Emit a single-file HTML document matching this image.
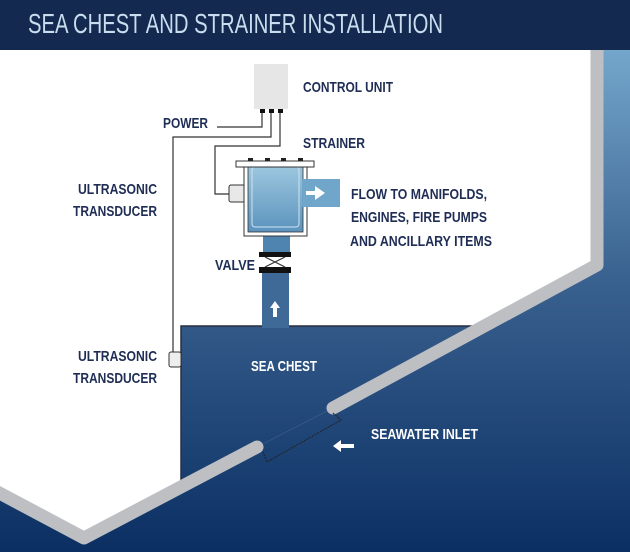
<!DOCTYPE html>
<html><head><meta charset="utf-8"><style>
html,body{margin:0;padding:0;background:#fff;}
svg{display:block;}
.l{font-family:"Liberation Sans",sans-serif;font-weight:bold;fill:#1f2d55;font-size:15px;}
.w{fill:#fff;}
</style></head><body>
<svg width="630" height="552" viewBox="0 0 630 552" xmlns="http://www.w3.org/2000/svg">
<defs>
<linearGradient id="sea" x1="0" y1="50" x2="0" y2="552" gradientUnits="userSpaceOnUse">
<stop offset="0" stop-color="#74a6cb"/><stop offset="0.45" stop-color="#3a6290"/><stop offset="1" stop-color="#0b2f63"/>
</linearGradient>
<linearGradient id="str" x1="0" y1="0" x2="0" y2="1">
<stop offset="0" stop-color="#9cc6de"/><stop offset="1" stop-color="#5b93bd"/>
</linearGradient>
</defs>
<rect x="0" y="0" width="630" height="552" fill="url(#sea)"/>
<polygon points="0,50 597,50 597,265 333,408 257,447 84,538 0,493" fill="#fff"/>
<polygon points="181,326 485,326 333,408 257,447 181,487" fill="url(#sea)"/>
<rect x="262" y="272" width="27" height="56" fill="#3f6a98"/>
<polyline points="181,487 181,326 262,326" fill="none" stroke="#2a2f3a" stroke-width="1.5"/>
<line x1="289" y1="326" x2="485" y2="326" stroke="#2a2f3a" stroke-width="1.5"/>
<polyline points="597,50 597,265 333,408" fill="none" stroke="#bdbfc3" stroke-width="13" stroke-linecap="round" stroke-linejoin="round"/>
<polyline points="257,447 84,538 -10,488" fill="none" stroke="#bdbfc3" stroke-width="13" stroke-linecap="round" stroke-linejoin="round"/>
<polyline points="333,413 341,420 267,462 263,452" fill="none" stroke="#222" stroke-width="1" stroke-dasharray="2,1"/>
<rect x="0" y="0" width="630" height="50" fill="#13294f"/>
<text x="28" y="33" font-family="Liberation Sans Narrow,Liberation Sans,sans-serif" font-size="28" fill="#c9ddef" textLength="415" lengthAdjust="spacingAndGlyphs">SEA CHEST AND STRAINER INSTALLATION</text>
<rect x="254" y="64" width="34" height="45" fill="#e6e6e6"/>
<rect x="260" y="109" width="5" height="4" fill="#111"/><rect x="269" y="109" width="5" height="4" fill="#111"/><rect x="278" y="109" width="5" height="4" fill="#111"/>
<g fill="none" stroke="#333" stroke-width="1.2">
<polyline points="262,113 262,127 217,127"/>
<polyline points="271,113 271,137 173,137 173,352"/>
<polyline points="280,113 280,146 215,146 215,194 230,194"/>
</g>
<rect x="169" y="352" width="12" height="15" rx="2" fill="#eee" stroke="#333" stroke-width="1"/>
<rect x="229" y="185" width="16" height="17" rx="2" fill="#e8e8e8" stroke="#333" stroke-width="1"/>
<rect x="263" y="234" width="27" height="19" fill="#4f84b0"/>
<rect x="244" y="167" width="63" height="69" fill="#fff" stroke="#333" stroke-width="1"/>
<rect x="248" y="167" width="55" height="65" fill="url(#str)" stroke="#333" stroke-width="0.8"/>
<rect x="252" y="167" width="47" height="60" rx="3" fill="none" stroke="#cfe3ef" stroke-width="1"/>
<rect x="302" y="179" width="38" height="28" fill="#6fa6ca"/>
<polygon points="306,191 315,191 315,186 325,193 315,200 315,195 306,195" fill="#fff"/>
<rect x="236" y="161" width="78" height="6" fill="#fff" stroke="#333" stroke-width="1"/>
<rect x="248" y="158" width="5" height="3" fill="#222"/><rect x="265" y="158" width="5" height="3" fill="#222"/><rect x="281" y="158" width="5" height="3" fill="#222"/><rect x="298" y="158" width="5" height="3" fill="#222"/>
<rect x="259" y="252" width="32" height="5" fill="#111"/>
<rect x="259" y="267" width="32" height="6" fill="#111"/>
<path d="M265,257 L285,267 M285,257 L265,267" stroke="#333" stroke-width="1.2"/>
<polygon points="275,301 270,308 273,308 273,317 277,317 277,308 280,308" fill="#fff"/>
<polygon points="333,446 341,440 341,444 354,444 354,448 341,448 341,452" fill="#fff"/>
<g lengthAdjust="spacingAndGlyphs">
<text class="l" x="303" y="92" textLength="90" lengthAdjust="spacingAndGlyphs">CONTROL UNIT</text>
<text class="l" x="163" y="128" textLength="45" lengthAdjust="spacingAndGlyphs">POWER</text>
<text class="l" x="303" y="148" textLength="62" lengthAdjust="spacingAndGlyphs">STRAINER</text>
<text class="l" x="351" y="199" textLength="136" lengthAdjust="spacingAndGlyphs">FLOW TO MANIFOLDS,</text>
<text class="l" x="351" y="222" textLength="136" lengthAdjust="spacingAndGlyphs">ENGINES, FIRE PUMPS</text>
<text class="l" x="350" y="246" textLength="142" lengthAdjust="spacingAndGlyphs">AND ANCILLARY ITEMS</text>
<text class="l" x="215" y="270" textLength="40" lengthAdjust="spacingAndGlyphs">VALVE</text>
<text class="l" x="78" y="194" textLength="79" lengthAdjust="spacingAndGlyphs">ULTRASONIC</text>
<text class="l" x="73" y="216" textLength="84" lengthAdjust="spacingAndGlyphs">TRANSDUCER</text>
<text class="l" x="78" y="361" textLength="79" lengthAdjust="spacingAndGlyphs">ULTRASONIC</text>
<text class="l" x="73" y="383" textLength="84" lengthAdjust="spacingAndGlyphs">TRANSDUCER</text>
<text class="l w" x="251" y="371" textLength="66" lengthAdjust="spacingAndGlyphs">SEA CHEST</text>
<text class="l w" x="371" y="439" textLength="107" lengthAdjust="spacingAndGlyphs">SEAWATER INLET</text>
</g>
</svg>
</body></html>
